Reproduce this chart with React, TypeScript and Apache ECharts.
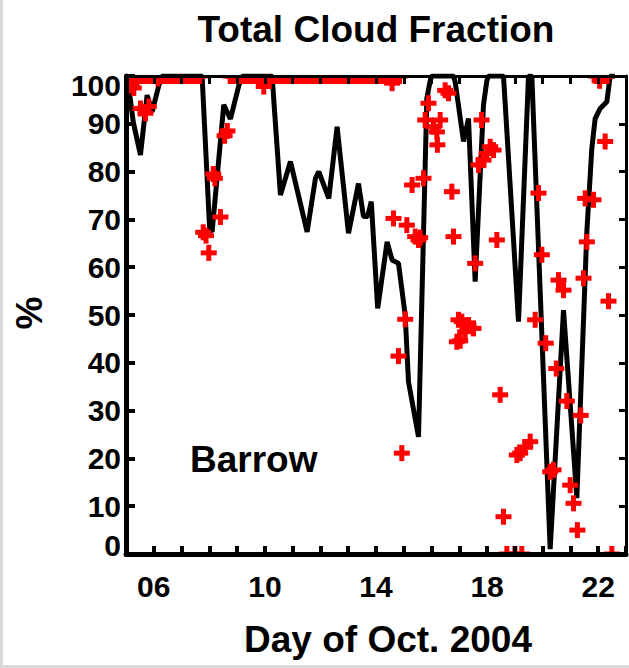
import React, { useEffect, useRef } from "react";
import * as echarts from "echarts";

const FONT = "'Liberation Sans', Arial, Helvetica, sans-serif";

// Model (black line): day of October 2004, total cloud fraction (%)
const modelDay = [5.0, 5.07, 5.26, 5.52, 5.76, 5.94, 6.18, 6.3, 7.0, 7.74, 8.01, 8.1, 8.52, 8.76, 9.06, 9.2, 9.8, 10.26, 10.56, 10.92, 11.52, 11.82, 11.94, 12.3, 12.6, 13.01, 13.37, 13.55, 13.7, 13.83, 14.06, 14.4, 14.58, 14.81, 15.05, 15.17, 15.53, 15.83, 15.95, 16.0, 16.79, 16.85, 17.15, 17.33, 17.57, 17.87, 17.99, 18.05, 18.59, 19.13, 19.49, 19.61, 20.27, 20.75, 21.23, 21.59, 21.77, 21.89, 22.07, 22.31, 22.43, 22.6];
const modelCloud = [100, 99, 90.4, 83.5, 96, 92.5, 98, 100, 100, 100, 68, 67.4, 94, 91, 98, 100, 100, 100, 75.1, 82.1, 67.4, 78.6, 80, 74.4, 89.4, 67.1, 77.5, 70.6, 70.6, 73.7, 51.4, 65.3, 61.5, 60.8, 50, 36, 24.5, 95.3, 99, 100, 100, 98.8, 86.3, 91.1, 57, 94, 99, 100, 100, 48.6, 100, 100, 1, 51, 11.7, 67.4, 84.9, 91.1, 93.2, 94.6, 100, 100];

// Observations (red crosses) that sit on the 100 % line
const obsTopDay = [5.05, 5.15, 5.25, 5.35, 5.45, 5.55, 5.65, 5.75, 5.85, 5.95, 6.05, 6.15, 6.25, 6.35, 6.45, 6.55, 6.65, 6.75, 6.85, 6.95, 7.05, 7.15, 7.25, 7.35, 7.45, 7.55, 7.65,
  8.75, 8.85, 8.95, 9.05, 9.15, 9.25, 9.35, 9.45, 9.55, 9.65, 9.75, 9.85, 9.95, 10.05, 10.15, 10.25, 10.35, 10.45, 10.55, 10.65, 10.75, 10.85, 10.95, 11.05, 11.15, 11.25, 11.35, 11.45, 11.55, 11.65, 11.75, 11.85, 11.95,
  12.05, 12.15, 12.25, 12.35, 12.45, 12.55, 12.65, 12.75, 12.85, 12.95, 13.05, 13.15, 13.25, 13.35, 13.45, 13.55, 13.65, 13.75, 13.85, 13.95, 14.05, 14.15, 14.25, 14.35, 14.45, 14.55, 14.65, 14.75, 14.85,
  21.92, 22.02, 22.12, 22.22, 22.32];

// Other observations (red crosses)
const obsDay = [5.1, 5.2, 5.28, 5.52, 5.7, 5.82, 6.15, 7.78, 7.88, 7.98, 8.14, 8.2, 8.4, 8.55, 8.65, 9.96, 14.58,
  14.63, 14.81, 14.93, 15.05, 15.11, 15.3, 15.41, 15.53, 15.59, 15.71, 15.77, 15.89, 16.07, 16.19, 16.21, 16.31, 16.49, 16.61,
  16.73, 16.79, 16.91, 16.97, 17.03, 17.09, 17.21, 17.33, 17.51, 17.57, 17.69, 17.8, 17.87, 17.99, 18.11, 18.23, 18.35, 18.47,
  18.59, 18.71, 19.0, 19.25, 19.07, 19.19, 19.37, 19.55, 19.73, 19.85, 19.97, 20.11, 20.27, 20.39, 20.49, 20.57, 20.75, 20.87,
  20.99, 21.11, 21.25, 21.37, 21.47, 21.53, 21.59, 21.83, 22.05, 22.25, 22.37, 22.49];
const obsCloud = [99, 98, 97.5, 93.2, 92.2, 93.6, 99.5, 67.3, 66.6, 63, 79.5, 78.6, 70.5, 87.5, 88.5, 97.8, 98.5,
  70.2, 41.4, 21.1, 49.1, 68.8, 77.2, 66.4, 65.7, 66.2, 78.6, 90.8, 94.3, 89.4, 88.3, 85.6, 90.8, 97, 96.4,
  75.8, 66.4, 44.4, 49, 44.6, 48.6, 46.5, 47.9, 47.2, 60.8, 81.4, 90.8, 82.4, 83.8, 85.2, 84.5, 65.7, 33.3,
  7.8, 0, 0, 0, 20.7, 21.1, 22.4, 23.5, 49, 75.5, 62.6, 44.1, 17.2, 17.6, 38.8, 57.3, 55.2, 32,
  14.4, 10.6, 5, 29, 57.7, 74.4, 65.3, 74.1, 99, 86.3, 52.9, 0];

const xTickDays = [6, 10, 14, 18, 22];
const xTickLabels = ["06", "10", "14", "18", "22"];
const yTicks = [0, 10, 20, 30, 40, 50, 60, 70, 80, 90, 100];

const TITLE = "Total Cloud Fraction";
const X_NAME = "Day of Oct. 2004";
const Y_NAME = "%";
const STATION = "Barrow";

export default function App() {
  const ref = useRef<HTMLDivElement>(null);

  useEffect(() => {
    if (!ref.current) return;
    const chart = echarts.init(ref.current, undefined, { renderer: "svg" });

    const linePts = modelDay.map((d, i) => [d, modelCloud[i]]);
    const obsPts = [
      ...obsTopDay.map((d) => [d, 100]),
      ...obsDay.map((d, i) => [d, obsCloud[i]]),
    ];

    const tickLabelStyle = { fontFamily: FONT, fontWeight: "bold", fontSize: 30, color: "#000" };

    const option = {
      animation: false,
      backgroundColor: "#ffffff",
      grid: { left: 126, right: 3, top: 76, bottom: 114, containLabel: false },
      xAxis: [
        {
          type: "value",
          position: "bottom",
          min: 5,
          max: 23,
          interval: 1,
          z: 10,
          axisLine: { show: true, onZero: false, lineStyle: { color: "#000", width: 5 } },
          axisTick: { show: true, inside: true, length: 8, lineStyle: { color: "#000", width: 4 } },
          axisLabel: {
            ...tickLabelStyle,
            margin: 17,
            showMinLabel: true,
            showMaxLabel: true,
            formatter: (v: number) => {
              const k = xTickDays.indexOf(Math.round(v));
              return k >= 0 ? xTickLabels[k] : "";
            },
          },
          splitLine: { show: false },
        },
        {
          type: "value",
          position: "top",
          min: 5,
          max: 23,
          interval: 1,
          z: 10,
          axisLine: { show: true, onZero: false, lineStyle: { color: "#000", width: 3 } },
          axisTick: { show: true, inside: true, length: 8, lineStyle: { color: "#000", width: 3 } },
          axisLabel: { show: false },
          splitLine: { show: false },
        },
      ],
      yAxis: [
        {
          type: "value",
          position: "left",
          min: 0,
          max: 100,
          interval: 10,
          z: 10,
          axisLine: { show: true, onZero: false, lineStyle: { color: "#000", width: 5 } },
          axisTick: { show: true, inside: true, length: 9, lineStyle: { color: "#000", width: 4 } },
          axisLabel: {
            margin: 5,
            formatter: (v: number) => {
              const r = Math.round(v);
              if (yTicks.indexOf(r) < 0) return "";
              if (r === 0) return "{lo|0}";
              if (r === 100) return "{hi|100}";
              return "{n|" + r + "}";
            },
            rich: {
              n: { ...tickLabelStyle },
              lo: { ...tickLabelStyle, padding: [0, 0, 18, 0] },
              hi: { ...tickLabelStyle, padding: [18, 0, 0, 0] },
            },
          },
          splitLine: { show: false },
        },
        {
          type: "value",
          position: "right",
          min: 0,
          max: 100,
          interval: 10,
          z: 10,
          axisLine: { show: true, onZero: false, lineStyle: { color: "#000", width: 3 } },
          axisTick: { show: true, inside: true, length: 7, lineStyle: { color: "#000", width: 3 } },
          axisLabel: { show: false },
          splitLine: { show: false },
        },
      ],
      series: [
        {
          type: "line",
          name: "model",
          xAxisIndex: 0,
          yAxisIndex: 0,
          data: linePts,
          showSymbol: false,
          symbol: "none",
          clip: true,
          z: 2,
          lineStyle: { color: "#000", width: 5 },
        },
        {
          type: "custom",
          name: "obs",
          coordinateSystem: "cartesian2d",
          xAxisIndex: 0,
          yAxisIndex: 0,
          clip: true,
          z: 3,
          data: obsPts,
          renderItem: (params: any, api: any) => {
            const p = api.coord([api.value(0), api.value(1)]);
            const h = 8;
            const w = 2.5;
            return {
              type: "group",
              children: [
                { type: "rect", shape: { x: p[0] - h, y: p[1] - w, width: 2 * h, height: 2 * w }, style: { fill: "#ff0000" } },
                { type: "rect", shape: { x: p[0] - w, y: p[1] - h, width: 2 * w, height: 2 * h }, style: { fill: "#ff0000" } },
              ],
            };
          },
        },
      ],
      graphic: [
        { type: "rect", shape: { x: 0, y: 0, width: 3, height: 668 }, style: { fill: "#dadada" }, z: 0 },
        { type: "rect", shape: { x: 0, y: 665, width: 629, height: 3 }, style: { fill: "#dadada" }, z: 0 },
        {
          type: "text",
          x: 376,
          y: 29,
          style: { text: TITLE, fill: "#000", fontFamily: FONT, fontWeight: "bold", fontSize: 37, align: "center", verticalAlign: "middle", textAlign: "center", textVerticalAlign: "middle" },
        },
        {
          type: "text",
          x: 388,
          y: 639,
          style: { text: X_NAME, fill: "#000", fontFamily: FONT, fontWeight: "bold", fontSize: 37, align: "center", verticalAlign: "middle", textAlign: "center", textVerticalAlign: "middle" },
        },
        {
          type: "text",
          x: 29,
          y: 313,
          rotation: Math.PI / 2,
          style: { text: Y_NAME, fill: "#000", fontFamily: FONT, fontWeight: "bold", fontSize: 37, align: "center", verticalAlign: "middle", textAlign: "center", textVerticalAlign: "middle" },
        },
        {
          type: "text",
          x: 190,
          y: 459,
          z: 20,
          style: { text: STATION, fill: "#000", fontFamily: FONT, fontWeight: "bold", fontSize: 37, align: "left", verticalAlign: "middle", textAlign: "left", textVerticalAlign: "middle" },
        },
      ],
    };

    chart.setOption(option as any);
    return () => chart.dispose();
  }, []);

  return (
    <div
      ref={ref}
      style={{ position: "fixed", left: 0, top: 0, width: 629, height: 668, background: "#fff" }}
    />
  );
}
